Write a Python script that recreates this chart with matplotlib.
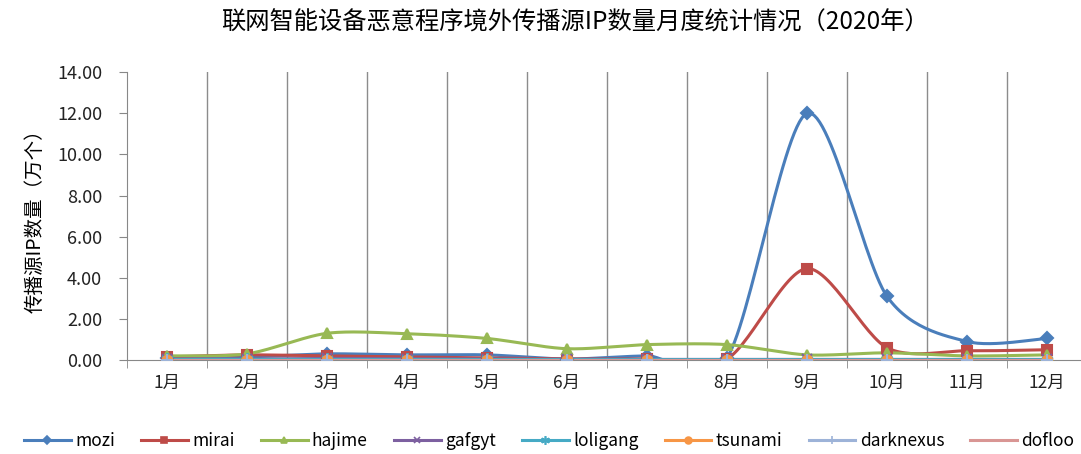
import numpy as np
import matplotlib
matplotlib.use("Agg")
import matplotlib.pyplot as plt
from matplotlib.ticker import FormatStrFormatter

plt.rcParams['font.family'] = ['Noto Sans CJK SC', 'DejaVu Sans']

months = ["1月", "2月", "3月", "4月", "5月", "6月", "7月", "8月", "9月", "10月", "11月", "12月"]
mozi = [0.10, 0.15, 0.30, 0.25, 0.25, 0.05, 0.20, 0.10, 12.00, 3.10, 0.90, 1.05]
mirai = [0.15, 0.25, 0.20, 0.15, 0.10, 0.05, 0.05, 0.05, 4.45, 0.60, 0.45, 0.50]
hajime = [0.20, 0.30, 1.30, 1.28, 1.05, 0.55, 0.75, 0.75, 0.25, 0.35, 0.20, 0.25]
gafgyt = [0.05, 0.05, 0.08, 0.06, 0.05, 0.03, 0.03, 0.03, 0.03, 0.03, 0.03, 0.03]
loligang = [0.03, 0.03, 0.03, 0.03, 0.03, 0.02, 0.02, 0.02, 0.02, 0.02, 0.02, 0.02]
tsunami = [0.02, 0.02, 0.02, 0.02, 0.02, 0.02, 0.02, 0.02, 0.02, 0.02, 0.02, 0.02]
darknexus = [0.01, 0.01, 0.01, 0.01, 0.01, 0.01, 0.01, 0.01, 0.01, 0.01, 0.01, 0.01]
dofloo = [0.01, 0.01, 0.01, 0.01, 0.01, 0.01, 0.01, 0.01, 0.01, 0.01, 0.01, 0.01]

series = [
    ("mozi", mozi, "#4A7EBB", "D", 6),
    ("mirai", mirai, "#BE4B48", "s", 7),
    ("hajime", hajime, "#98B954", "^", 7),
    ("gafgyt", gafgyt, "#7D60A0", "x", 7),
    ("loligang", loligang, "#46AAC5", (6, 2, 0), 9),
    ("tsunami", tsunami, "#F79646", "o", 7),
    ("darknexus", darknexus, "#9DB3D8", "+", 8),
    ("dofloo", dofloo, "#D99694", None, 0),
]


def smooth(x, y, n=30, k=1 / 7):
    # bezier smoothing like the excel "smoothed line"
    x = np.asarray(x, float)
    y = np.asarray(y, float)
    px = np.concatenate([[x[0]], x, [x[-1]]])
    py = np.concatenate([[y[0]], y, [y[-1]]])
    xs, ys = [], []
    t = np.linspace(0, 1, n)
    for i in range(1, len(px) - 2):
        for a, out in ((px, xs), (py, ys)):
            a0, a1, a2, a3 = a[i - 1], a[i], a[i + 1], a[i + 2]
            c1 = a1 + (a2 - a0) * k
            c2 = a2 - (a3 - a1) * k
            out.extend((1 - t) ** 3 * a1 + 3 * (1 - t) ** 2 * t * c1 + 3 * (1 - t) * t ** 2 * c2 + t ** 3 * a2)
    return np.array(xs), np.array(ys)


fig = plt.figure(figsize=(10.81, 4.54), dpi=100)
ax = fig.add_axes([0.1175, 0.207, 0.888, 0.634])

x = np.arange(1, 13)
handles = []
for name, vals, col, mk, ms in series:
    sx, sy = smooth(x, vals)
    ax.plot(sx, sy, color=col, lw=2.2, zorder=3)
    ax.plot(x, vals, ls="none", marker=mk, color=col, ms=ms, mew=1.5, zorder=4)
    h, = ax.plot([], [], color=col, lw=2.2, marker=mk, ms=ms * 0.7, mew=1.2)
    handles.append(h)

ax.set_xlim(0.5, 12.5)
ax.set_ylim(0, 14)
ax.set_yticks(np.arange(0, 15, 2))
ax.yaxis.set_major_formatter(FormatStrFormatter("%.2f"))
ax.set_xticks(x)
ax.set_xticklabels(months)
ax.set_xticks(np.arange(0.5, 13, 1), minor=True)
ax.tick_params(axis="x", which="major", length=0, pad=10, labelsize=12.5, colors="#222222")
ax.tick_params(axis="x", which="minor", length=6, color="#888888")
ax.tick_params(axis="y", length=6, pad=12, color="#888888", labelsize=13, labelcolor="#222222")
for b in np.arange(1.5, 12, 1):
    ax.axvline(b, color="#8C8C8C", lw=1, zorder=1)
for s in ["top", "right"]:
    ax.spines[s].set_visible(False)
ax.spines["left"].set_color("#888888")
ax.spines["bottom"].set_color("#888888")

ax.set_ylabel("传播源IP数量（万个）", fontsize=14, labelpad=8)
fig.text(0.532, 0.95, "联网智能设备恶意程序境外传播源IP数量月度统计情况（2020年）",
         ha="center", va="center", fontsize=17.5)

fig.legend(handles, [s[0] for s in series], loc="center", bbox_to_anchor=(0.508, 0.028),
           ncol=8, frameon=False, fontsize=12.5, handlelength=2.7, columnspacing=1.5,
           handletextpad=0.25)

fig.savefig("out.png", dpi=100)
